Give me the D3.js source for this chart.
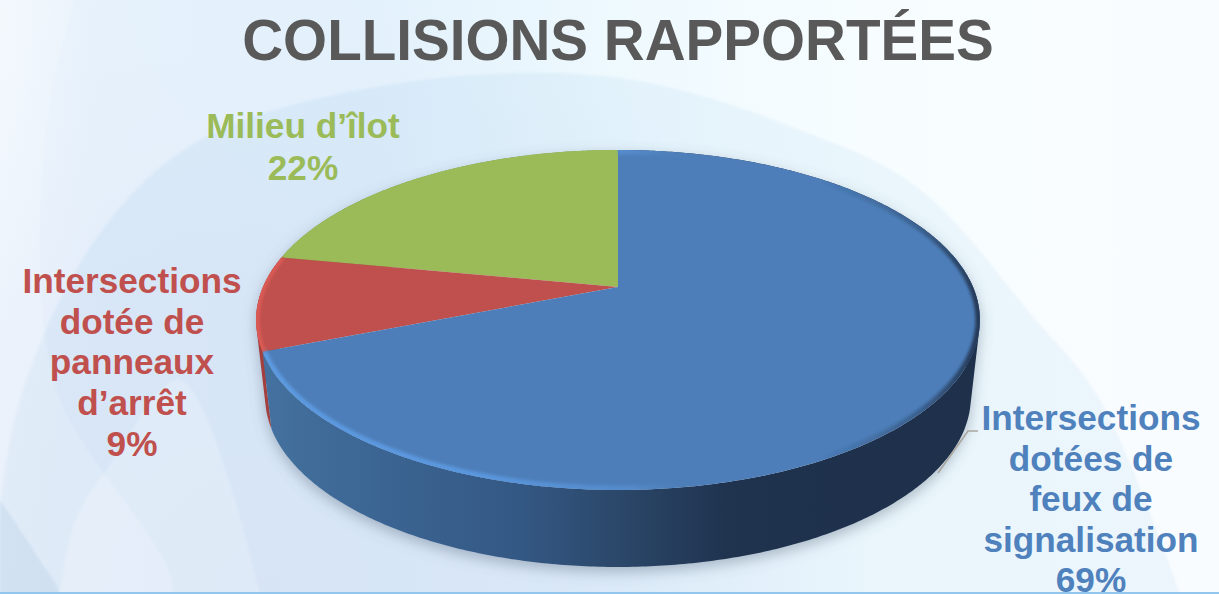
<!DOCTYPE html>
<html lang="fr">
<head>
<meta charset="utf-8">
<title>Collisions rapportées</title>
<script src="https://cdn.jsdelivr.net/npm/d3@7"></script>
<style>
  html, body { margin: 0; padding: 0; background: #fff; overflow: hidden; }
  svg { display: block; font-family: "Liberation Sans", Arial, sans-serif; font-weight: bold; }
</style>
</head>
<body>
<svg id="chart" width="1219" height="594"></svg>
<script>
// Chart content
const chartTitle = "COLLISIONS RAPPORTÉES";
const categories = ["Intersections dotées de feux de signalisation", "Intersections dotée de panneaux d’arrêt", "Milieu d’îlot"];
const shares = [69, 9, 22];
const labelLines = [
  ["Intersections", "dotées de", "feux de", "signalisation", "69%"],
  ["Intersections", "dotée de", "panneaux", "d’arrêt", "9%"],
  ["Milieu d’îlot", "22%"]
];
const sliceColors = ["#4d7eb9", "#bf504d", "#9bbb59"];
const textColors = ["#4f81bd", "#c0504d", "#9bbb59"];

// Layout
const W = 1219, H = 594;
const apex = { x: 618, y: 287 };
const planRadiusX = 355, planRadiusY = 163.6, tilt = 0.194;
const thickness = 77, floorScale = 0.975;
const labelAnchors = [
  { x: 1091, y: 430 },
  { x: 132, y: 293 },
  { x: 303, y: 138 }
];
const lineGap = [40.5, 40.7, 42];

const svg = d3.select("#chart");
const defs = svg.append("defs");

function addGradient(kind, id, stops, attrs) {
  const el = defs.append(kind).attr("id", id);
  Object.entries(attrs).forEach(([k, v]) => el.attr(k, v));
  stops.forEach(s => el.append("stop")
    .attr("offset", s[0]).attr("stop-color", s[1]).attr("stop-opacity", s[2] ?? 1));
}
function blur(id, amount) {
  defs.append("filter").attr("id", id)
    .attr("x", "-10%").attr("y", "-10%").attr("width", "120%").attr("height", "120%")
    .append("feGaussianBlur").attr("stdDeviation", amount);
}

addGradient("linearGradient", "page", [
  [0, "#f1f7fd"], [0.08, "#e6f1fb"], [0.3, "#e2f1fc"], [0.5, "#eef9fe"], [0.72, "#f7fdff"], [1, "#f9fcff"]
], { x1: "0", y1: "0", x2: "1", y2: "0" });
addGradient("radialGradient", "pageLow", [
  [0, "#e3eaf8", 0.95], [0.55, "#e3ecf9", 0.7], [1, "#e6f0fb", 0]
], { gradientUnits: "userSpaceOnUse", cx: "260", cy: "594", r: "620" });
addGradient("linearGradient", "blueSide", [
  [0, "#44719f"], [0.17, "#3b6492"], [0.36, "#345884"], [0.5, "#2b4769"], [0.66, "#1f324e"], [1, "#1e304a"]
], { gradientUnits: "userSpaceOnUse", x1: "265", y1: "0", x2: "975", y2: "0" });
addGradient("linearGradient", "blueBevel", [
  [0, "#5c9ae0"], [0.3, "#5a97de"], [0.52, "#5790d2", 0.7], [0.6, "#4d7eb9", 0],
  [0.78, "#1e304a", 0], [0.92, "#1e304a", 0.4], [1, "#1e304a", 0.9]
], { gradientUnits: "userSpaceOnUse", x1: "256", y1: "0", x2: "980", y2: "0" });
blur("soft", 7);
blur("bevel", 1.8);
blur("decor", 1);

// Page backdrop with its broad translucent curves
const g0 = svg.append("g");
g0.append("rect").attr("width", W).attr("height", H).attr("fill", "url(#page)");
g0.append("rect").attr("width", W).attr("height", H).attr("fill", "url(#pageLow)");

const smooth = d3.line().curve(d3.curveCatmullRom.alpha(0.5));
const decor = [
  { pts: [[-10, 594], [20, 400], [100, 233], [200, 140], [400, 83], [620, 78], [800, 130], [917, 187], [1033, 317], [1100, 400], [1180, 594]], fill: "#2f7fc4", op: 0.05 },
  { pts: [[75, 0], [50, 100], [40, 267], [60, 400], [170, 594], [-10, 594], [-10, 0]], fill: "#ffffff", op: 0.16 },
  { pts: [[60, 594], [75, 520], [110, 465], [180, 380], [260, 594]], fill: "#ffffff", op: 0.2 },
  { pts: [[0, 500], [40, 560], [58, 594], [0, 594]], fill: "#9fbfdc", op: 0.22 }
];
g0.selectAll("path.decor").data(decor).join("path")
  .attr("class", "decor")
  .attr("d", d => smooth(d.pts) + "Z")
  .attr("fill", d => d.fill)
  .attr("fill-opacity", d => d.op)
  .attr("filter", "url(#decor)");
g0.append("rect").attr("y", H - 2).attr("width", W).attr("height", 2).attr("fill", "#93c6ee");

// Perspective projection of a pie angle (clockwise from twelve o'clock) onto the disc
function rim(angle, floor) {
  const u = Math.sin(angle), v = Math.cos(angle), d = 1 + tilt * v;
  const s = floor ? floorScale : 1;
  return [
    apex.x + s * planRadiusX * u / d,
    apex.y - planRadiusY * v / d + (floor ? thickness : 0)
  ];
}
function rimPoints(a0, a1, floor) {
  const n = Math.max(2, Math.ceil((a1 - a0) / 0.01));
  return d3.range(n + 1).map(i => rim(a0 + (a1 - a0) * i / n, floor));
}
const path = d3.line();

const arcs = d3.pie().sort(null)(shares).map((a, i) => ({ ...a, i }));
const paintOrder = [arcs[2], arcs[1], arcs[0]];

const topFace = a => path([[apex.x, apex.y], ...rimPoints(a.startAngle, a.endAngle, false)]) + "Z";

// The wall is a run of small quads, all wound the same way, so that
// their union also fills the tangent corners of the silhouette
function sideWall(a) {
  const upper = rimPoints(a.startAngle, a.endAngle, false);
  const lower = rimPoints(a.startAngle, a.endAngle, true);
  return d3.pairs(d3.range(upper.length)).map(([i, j]) => {
    const quad = [upper[i], upper[j], lower[j], lower[i]];
    if (d3.polygonArea(quad) < 0) quad.reverse();
    return path(quad) + "Z";
  }).join("");
}
const sideFill = ["url(#blueSide)", "#a33f3c", "#7f9a48"];

// Soft cast shadow under the disc
svg.append("path")
  .attr("d", sideWall({ startAngle: 0, endAngle: 2 * Math.PI }))
  .attr("transform", "translate(0,5)")
  .attr("fill", "#55687c").attr("fill-opacity", 0.42)
  .attr("filter", "url(#soft)");

// Side walls, then top faces
svg.append("g").selectAll("path").data(paintOrder).join("path")
  .attr("d", sideWall)
  .attr("fill", d => sideFill[d.i]);
svg.append("g").selectAll("path").data(paintOrder).join("path")
  .attr("d", topFace)
  .attr("fill", d => sliceColors[d.i]);

// Leader line of the largest slice
svg.append("polyline")
  .attr("points", [[938, 473], [968, 431], [978, 431]].join(" "))
  .attr("fill", "none").attr("stroke", "#aaa6a0").attr("stroke-width", 1.6);

// Bevelled rim, kept inside the top face
defs.append("clipPath").attr("id", "faceClip")
  .append("path").attr("d", path(rimPoints(0, 2 * Math.PI, false)) + "Z");
const bevel = svg.append("g").attr("clip-path", "url(#faceClip)");
bevel.append("path")
  .attr("d", path(rimPoints(arcs[0].startAngle, arcs[0].endAngle, false)))
  .attr("fill", "none").attr("stroke", "url(#blueBevel)").attr("stroke-width", 9)
  .attr("filter", "url(#bevel)");
bevel.append("path")
  .attr("d", path(rimPoints(arcs[1].startAngle, arcs[1].endAngle, false)))
  .attr("fill", "none").attr("stroke", "#dc5a55").attr("stroke-width", 7)
  .attr("filter", "url(#bevel)");

// Title
svg.append("text")
  .attr("x", 618).attr("y", 60)
  .attr("text-anchor", "middle")
  .attr("font-size", 56.6).attr("fill", "#595959")
  .text(chartTitle);

// Slice labels
const labels = svg.append("g").selectAll("text").data(labelLines).join("text")
  .attr("text-anchor", "middle")
  .attr("font-size", 35.2)
  .attr("fill", (d, i) => textColors[i])
  .attr("data-category", (d, i) => categories[i]);
labels.each(function (lines, i) {
  d3.select(this).selectAll("tspan").data(lines).join("tspan")
    .attr("x", labelAnchors[i].x)
    .attr("y", (d, j) => labelAnchors[i].y + j * lineGap[i])
    .text(d => d);
});
</script>
</body>
</html>
